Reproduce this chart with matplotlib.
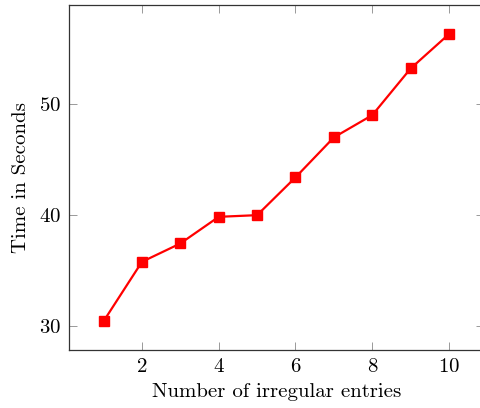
import matplotlib
matplotlib.use('Agg')
import matplotlib.pyplot as plt

# values
entries = [1, 2, 3, 4, 5, 6, 7, 8, 9, 10]
seconds = [30.45, 35.8, 37.45, 39.85, 40.0, 43.4, 47.0, 49.0, 53.2, 56.3]
x_ticks = [2, 4, 6, 8, 10]
y_ticks = [30, 40, 50]

plt.rcParams['font.family'] = 'serif'
plt.rcParams['font.serif'] = ['cmr10', 'DejaVu Serif']
plt.rcParams['mathtext.fontset'] = 'cm'
plt.rcParams['axes.formatter.use_mathtext'] = True

fig = plt.figure(figsize=(4.81, 4.08), dpi=100)
ax = fig.add_axes([69 / 481, (408 - 350) / 408, (483.6 - 69) / 481, (350 - 5.3) / 408])

ax.plot(entries, seconds, color='red', linewidth=1.6, marker='s', markersize=7.5,
        markerfacecolor='red', markeredgecolor='red')

# pgfplots-style 10% enlargement of the limits
xr = max(entries) - min(entries)
yr = max(seconds) - min(seconds)
ax.set_xlim(min(entries) - 0.1 * xr, max(entries) + 0.1 * xr)
ax.set_ylim(min(seconds) - 0.1 * yr, max(seconds) + 0.1 * yr)

ax.set_xticks(x_ticks)
ax.set_yticks(y_ticks)
ax.tick_params(direction='in', length=6, width=0.7, color='#999999', labelsize=15,
               top=True, right=True)
ax.tick_params(axis='x', pad=6)
ax.tick_params(axis='y', pad=6)
for s in ax.spines.values():
    s.set_color('#333333')
    s.set_linewidth(0.9)

ax.set_xlabel('Number of irregular entries', fontsize=15, labelpad=5)
ax.set_ylabel('Time in Seconds', fontsize=15, labelpad=6)

fig.savefig('out.png', dpi=100)
